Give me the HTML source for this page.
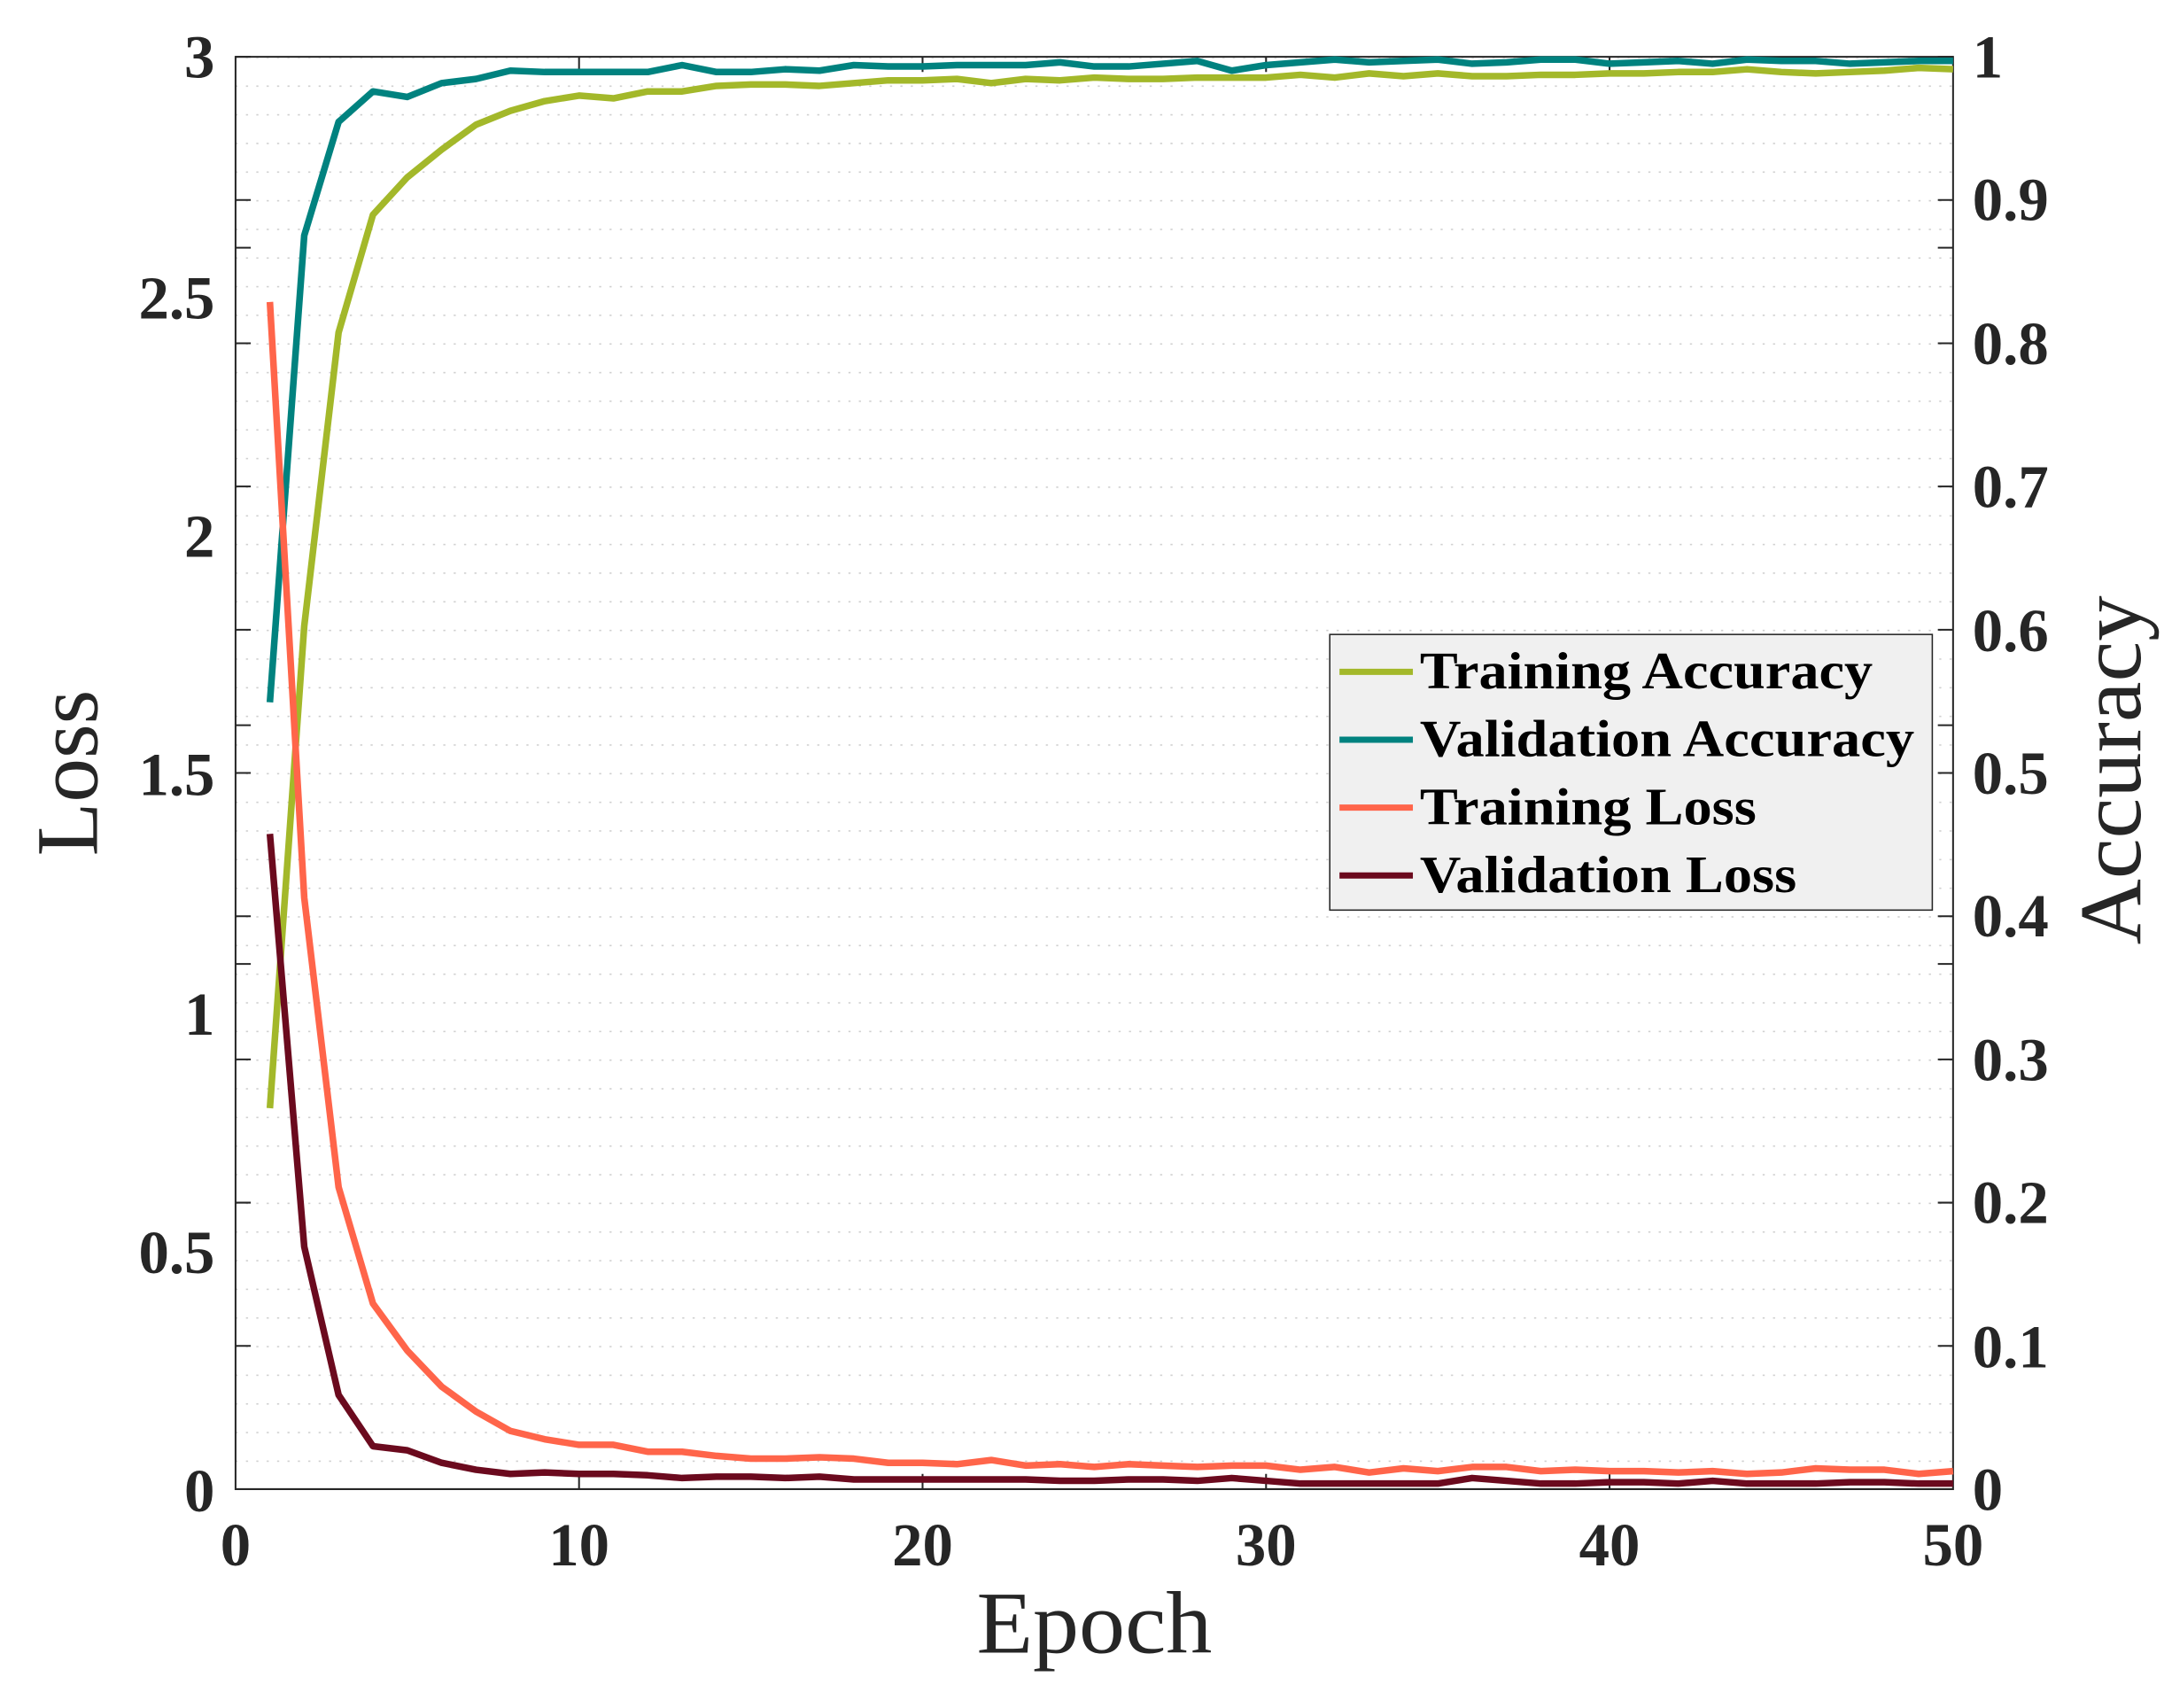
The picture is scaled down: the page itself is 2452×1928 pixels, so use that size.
<!DOCTYPE html>
<html><head><meta charset="utf-8"><style>
html,body{margin:0;padding:0;background:#fff;}
svg{display:block;}
text{font-family:"Liberation Serif","Times New Roman",serif;fill:#262626;}
</style></head><body>
<svg width="2452" height="1928" viewBox="0 0 1568 1233" xmlns="http://www.w3.org/2000/svg">
<defs>
<pattern id="grid" patternUnits="userSpaceOnUse" x="170" y="41" width="1240" height="20.68">
<line x1="0" y1="0.5" x2="1240" y2="0.5" stroke="#cfcfcf" stroke-width="1" stroke-dasharray="1.5,6"/>
</pattern>
</defs>
<rect x="170" y="41" width="1240" height="1034" fill="url(#grid)"/>
<path d="M170,41 H1410 V1075 H170 Z" fill="none" stroke="#262626" stroke-width="1.3"/>
<g stroke="#262626" stroke-width="1.3">
<path d="M170,868.2h11M170,695.9h11M170,523.5h11M170,351.2h11M170,178.8h11M170,41h11
M170,971.6h11M170,764.8h11M170,661.4h11M170,558h11M170,454.6h11M170,351.2h11M170,247.8h11M170,144.4h11
M1410,971.6h-11M1410,868.2h-11M1410,764.8h-11M1410,661.4h-11M1410,558h-11M1410,454.6h-11M1410,351.2h-11M1410,247.8h-11M1410,144.4h-11M1410,41h-11
M1410,695.9h-11M1410,523.5h-11M1410,178.8h-11
M418,1075v-11M666,1075v-11M914,1075v-11M1162,1075v-11
M418,41v11M666,41v11M914,41v11M1162,41v11"/>
</g>
<g fill="none" stroke-width="7.5" stroke-linejoin="round" transform="translate(170,0) scale(24.8,1)">
<polyline vector-effect="non-scaling-stroke" stroke="#a3b82a" points="1,800 2,452 3,240 4,155 5,128 6,108 7,90 8,80 9,73 10,69 11,71 12,66 13,66 14,62 15,61 16,61 17,62 18,60 19,58 20,58 21,57 22,60 23,57 24,58 25,56 26,57 27,57 28,56 29,56 30,56 31,54 32,56 33,53 34,55 35,53 36,55 37,55 38,54 39,54 40,53 41,53 42,52 43,52 44,50 45,52 46,53 47,52 48,51 49,49 50,50"/>
<polyline vector-effect="non-scaling-stroke" stroke="#00827f" points="1,507 2,170 3,88 4,66 5,70 6,60 7,57 8,51 9,52 10,52 11,52 12,52 13,47 14,52 15,52 16,50 17,51 18,47 19,48 20,48 21,47 22,47 23,47 24,45 25,48 26,48 27,46 28,44 29,51 30,47 31,45 32,43 33,45 34,44 35,43 36,46 37,45 38,43 39,43 40,46 41,45 42,44 43,46 44,43 45,44 46,44 47,46 48,45 49,44 50,44"/>
<polyline vector-effect="non-scaling-stroke" stroke="#ff654a" points="1,218 2,648 3,857 4,941 5,975 6,1001 7,1019 8,1033 9,1039 10,1043 11,1043 12,1048 13,1048 14,1051 15,1053 16,1053 17,1052 18,1053 19,1056 20,1056 21,1057 22,1054 23,1058 24,1057 25,1059 26,1057 27,1058 28,1059 29,1058 30,1058 31,1061 32,1059 33,1063 34,1060 35,1062 36,1059 37,1059 38,1062 39,1061 40,1062 41,1062 42,1063 43,1062 44,1064 45,1063 46,1060 47,1061 48,1061 49,1064 50,1062"/>
<polyline vector-effect="non-scaling-stroke" stroke="#6b0a1e" points="1,602 2,900 3,1007 4,1044 5,1047 6,1056 7,1061 8,1064 9,1063 10,1064 11,1064 12,1065 13,1067 14,1066 15,1066 16,1067 17,1066 18,1068 19,1068 20,1068 21,1068 22,1068 23,1068 24,1069 25,1069 26,1068 27,1068 28,1069 29,1067 30,1069 31,1071 32,1071 33,1071 34,1071 35,1071 36,1067 37,1069 38,1071 39,1071 40,1070 41,1070 42,1071 43,1069 44,1071 45,1071 46,1071 47,1070 48,1070 49,1071 50,1071"/>
</g>
<g font-size="44" font-weight="bold" text-anchor="end">
<text x="155" y="56">3</text>
<text x="155" y="230">2.5</text>
<text x="155" y="402">2</text>
<text x="155" y="574">1.5</text>
<text x="155" y="747">1</text>
<text x="155" y="919">0.5</text>
<text x="155" y="1091">0</text>
</g>
<g font-size="44" font-weight="bold" text-anchor="start">
<text x="1424" y="56">1</text>
<text x="1424" y="159">0.9</text>
<text x="1424" y="263">0.8</text>
<text x="1424" y="366">0.7</text>
<text x="1424" y="470">0.6</text>
<text x="1424" y="573">0.5</text>
<text x="1424" y="676">0.4</text>
<text x="1424" y="780">0.3</text>
<text x="1424" y="883">0.2</text>
<text x="1424" y="987">0.1</text>
<text x="1424" y="1090">0</text>
</g>
<g font-size="44" font-weight="bold" text-anchor="middle">
<text x="170" y="1130">0</text>
<text x="418" y="1130">10</text>
<text x="666" y="1130">20</text>
<text x="914" y="1130">30</text>
<text x="1162" y="1130">40</text>
<text x="1410" y="1130">50</text>
</g>
<text x="705" y="1193" font-size="64" textLength="170" lengthAdjust="spacingAndGlyphs">Epoch</text>
<text transform="translate(70,618) rotate(-90)" font-size="64" textLength="120" lengthAdjust="spacingAndGlyphs">Loss</text>
<text transform="translate(1545,682) rotate(-90)" font-size="64" textLength="252" lengthAdjust="spacingAndGlyphs">Accuracy</text>
<rect x="960" y="458" width="435" height="199" fill="#f0f0f0" stroke="#262626" stroke-width="1"/>
<g stroke-width="4.5">
<line x1="967" y1="485" x2="1020" y2="485" stroke="#a3b82a"/>
<line x1="967" y1="534" x2="1020" y2="534" stroke="#00827f"/>
<line x1="967" y1="583" x2="1020" y2="583" stroke="#ff654a"/>
<line x1="967" y1="632" x2="1020" y2="632" stroke="#6b0a1e"/>
</g>
<g font-size="38" font-weight="bold">
<text x="1025" y="497" style="fill:#000" textLength="327" lengthAdjust="spacingAndGlyphs">Training Accuracy</text>
<text x="1025" y="546" style="fill:#000" textLength="357" lengthAdjust="spacingAndGlyphs">Validation Accuracy</text>
<text x="1025" y="595" style="fill:#000" textLength="243" lengthAdjust="spacingAndGlyphs">Training Loss</text>
<text x="1025" y="644" style="fill:#000" textLength="272" lengthAdjust="spacingAndGlyphs">Validation Loss</text>
</g>
</svg>
</body></html>
